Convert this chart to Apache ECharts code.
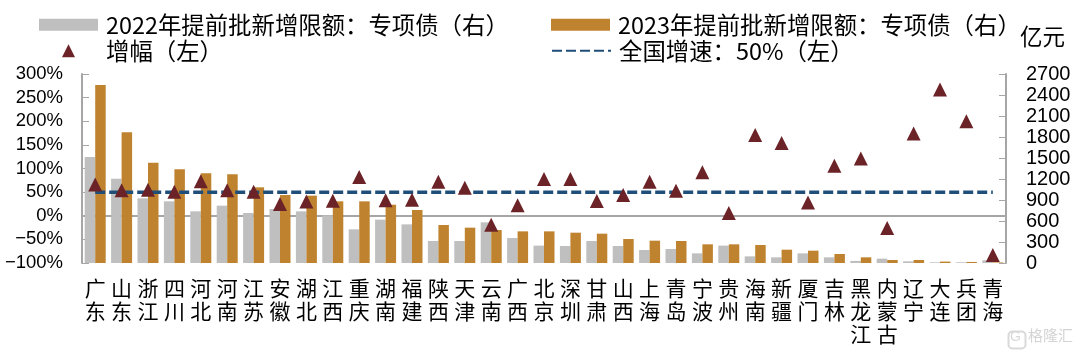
<!DOCTYPE html>
<html>
<head>
<meta charset="utf-8">
<style>
html,body{margin:0;padding:0;background:#fff;}
#main{width:1080px;height:355px;}
</style>
<script src="https://cdn.jsdelivr.net/npm/echarts@6/dist/echarts.min.js"></script>
</head>
<body>
<div id="main"></div>
<script>
var categories=['广东','山东','浙江','四川','河北','河南','江苏','安徽','湖北','江西','重庆','湖南','福建','陕西','天津','云南','广西','北京','深圳','甘肃','山西','上海','青岛','宁波','贵州','海南','新疆','厦门','吉林','黑龙江','内蒙古','辽宁','大连','兵团','青海'];
var quota2022=[1514,1204,924,881,738,819,714,771,738,681,481,619,552,314,314,581,357,248,243,314,243,186,200,138,248,95,81,138,81,30,62,24,10,10,38];
var quota2023=[2543,1867,1433,1338,1281,1267,1081,971,962,881,881,833,757,543,505,471,452,452,433,419,343,319,314,267,267,257,190,176,129,81,43,43,20,15,8];
var growth=[66,54,55,51,73,54,51,25,30,32,82,33,34,72,59,-19,22,78,78,31,44,72,53,92,6,171,154,28,106,121,-26,174,267,200,-83];
var nationalGrowth=[50,50,50,50,50,50,50,50,50,50,50,50,50,50,50,50,50,50,50,50,50,50,50,50,50,50,50,50,50,50,50,50,50,50,50];

var name2022='2022年提前批新增限额：专项债（右）';
var name2023='2023年提前批新增限额：专项债（右）';
var nameGrowth='增幅（左）';
var nameNational='全国增速：50%（左）';

var cjk='"Noto Sans CJK SC","Liberation Sans",sans-serif';
var num='"Liberation Sans","Noto Sans CJK SC",sans-serif';
var axisGray='#a6a6a6';

function legendAt(name,left,top,extra){
	var lg={
		data:[{name:name,icon:'rect'}],left:left,top:top,padding:0,
		itemWidth:59,itemHeight:12,itemGap:0,
		selectedMode:false,
		textStyle:{fontFamily:cjk,fontSize:23.4,color:'#000',padding:[0,0,0,3]}
	};
	for(var k in extra){lg[k]=extra[k];}
	return lg;
}

var chart=echarts.init(document.getElementById('main'));
chart.setOption({
	animation:false,
	backgroundColor:'#fff',
	grid:{left:82,right:74,top:74,height:189,outerBoundsMode:'none'},
	legend:[
		legendAt(name2022,39,13),
		legendAt(name2023,551,13),
		legendAt(nameGrowth,62,39,{
			data:[{name:nameGrowth,icon:'triangle'}],itemWidth:13,itemHeight:13,
			textStyle:{fontFamily:cjk,fontSize:23.4,color:'#000',padding:[0,0,0,26]}
		}),
		legendAt(nameNational,551,39,{
			data:[nameNational],itemStyle:{opacity:0}
		})
	],
	xAxis:{
		type:'category',
		data:categories,
		axisLine:{onZero:true,lineStyle:{color:axisGray,width:2}},
		axisTick:{inside:true,length:6,lineStyle:{color:axisGray,width:1}},
		axisLabel:{
			interval:0,margin:14,
			fontFamily:cjk,fontSize:21,lineHeight:23,color:'#000',
			formatter:function(v){return v.split('').join('\n');}
		}
	},
	yAxis:[
		{
			type:'value',min:-100,max:300,interval:50,
			splitLine:{show:false},
			axisLine:{show:true,lineStyle:{color:axisGray,width:2}},
			axisTick:{show:true,inside:true,length:7,lineStyle:{color:axisGray,width:1}},
			axisLabel:{
				margin:19,fontFamily:num,fontSize:18.5,color:'#000',
				formatter:function(v){return String(v).replace('-','−')+'%';}
			}
		},
		{
			type:'value',min:0,max:2700,interval:300,position:'right',
			name:'亿元',nameGap:26,
			nameTextStyle:{fontFamily:cjk,fontSize:22.5,color:'#000',align:'left',padding:[0,0,0,14]},
			splitLine:{show:false},
			axisLine:{show:true,lineStyle:{color:axisGray,width:2}},
			axisTick:{show:true,inside:true,length:7,lineStyle:{color:axisGray,width:1}},
			axisLabel:{margin:20,fontFamily:num,fontSize:20,color:'#000',formatter:function(v){return String(v);}}
		}
	],
	series:[
		{
			name:name2022,type:'bar',yAxisIndex:1,data:quota2022,
			barWidth:10.5,barGap:0,
			itemStyle:{color:'#bfbfbf'}
		},
		{
			name:name2023,type:'bar',yAxisIndex:1,data:quota2023,
			barWidth:10.5,barGap:0,
			itemStyle:{color:'#bf8330'}
		},
		{
			name:nameNational,type:'line',yAxisIndex:0,data:nationalGrowth,
			symbol:'none',z:3,
			lineStyle:{color:'#1f4e79',width:3.5,type:[10,4]},
			itemStyle:{color:'#1f4e79'}
		},
		{
			name:nameGrowth,type:'scatter',yAxisIndex:0,data:growth,
			symbol:'triangle',symbolSize:14,z:4,
			itemStyle:{color:'#6b2327',opacity:1}
		}
	],
	graphic:[
		{type:'rect',left:1006,top:329,shape:{width:17,height:17,r:4},style:{fill:'none',stroke:'#d9d9d9',lineWidth:2}},
		{type:'text',left:1010,top:330,style:{text:'G',fontFamily:num,fontSize:14,fill:'#d9d9d9'}},
		{type:'text',left:1028,top:328,style:{text:'格隆汇',fontFamily:cjk,fontSize:15,fill:'#d4d4d4'}}
	]
});
</script>
</body>
</html>
